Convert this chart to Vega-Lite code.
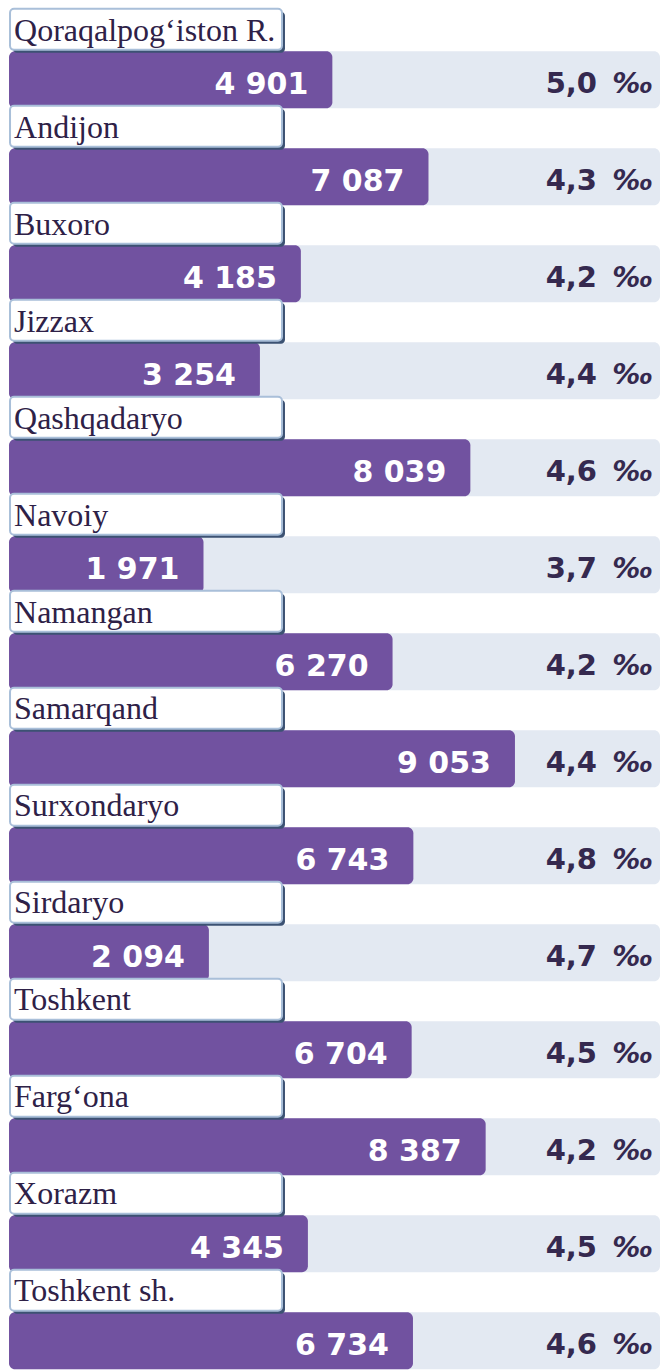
{
  "$schema": "https://vega.github.io/schema/vega-lite/v6.json",
  "width": 664,
  "height": 1370,
  "padding": 0,
  "autosize": {"type": "fit", "contains": "padding"},
  "background": "white",
  "config": {
    "view": {"stroke": null},
    "locale": {"number": {"decimal": ",", "thousands": " ", "grouping": [3], "currency": ["", ""]}}
  },
  "data": {
    "values": [
      {"region": "Qoraqalpog‘iston R.", "value": 4901, "rate": 5.0},
      {"region": "Andijon", "value": 7087, "rate": 4.3},
      {"region": "Buxoro", "value": 4185, "rate": 4.2},
      {"region": "Jizzax", "value": 3254, "rate": 4.4},
      {"region": "Qashqadaryo", "value": 8039, "rate": 4.6},
      {"region": "Navoiy", "value": 1971, "rate": 3.7},
      {"region": "Namangan", "value": 6270, "rate": 4.2},
      {"region": "Samarqand", "value": 9053, "rate": 4.4},
      {"region": "Surxondaryo", "value": 6743, "rate": 4.8},
      {"region": "Sirdaryo", "value": 2094, "rate": 4.7},
      {"region": "Toshkent", "value": 6704, "rate": 4.5},
      {"region": "Farg‘ona", "value": 8387, "rate": 4.2},
      {"region": "Xorazm", "value": 4345, "rate": 4.5},
      {"region": "Toshkent sh.", "value": 6734, "rate": 4.6}
    ]
  },
  "encoding": {
    "y": {"field": "region", "type": "nominal", "sort": null, "axis": null,
          "scale": {"paddingInner": 0, "paddingOuter": 0.047}}
  },
  "layer": [
    {
      "mark": {"type": "bar", "height": 57, "yOffset": 26.7, "cornerRadius": 6, "color": "#e3e9f2"},
      "encoding": {
        "x": {"datum": -2451, "type": "quantitative", "axis": null, "scale": {"domain": [-2656, 12442], "nice": false, "zero": false}},
        "x2": {"datum": 12351}
      }
    },
    {
      "mark": {"type": "bar", "height": 57, "yOffset": 26.7, "cornerRadius": 6, "color": "#7152a0"},
      "encoding": {
        "x": {"field": "value", "type": "quantitative"},
        "x2": {"datum": -2451}
      }
    },
    {
      "mark": {"type": "bar", "height": 41, "yOffset": -20.7, "cornerRadius": 4, "color": "#3c5273"},
      "encoding": {
        "x": {"datum": -2360, "type": "quantitative"},
        "x2": {"datum": 3824}
      }
    },
    {
      "mark": {"type": "bar", "height": 41, "yOffset": -23.7, "cornerRadius": 4, "fill": "white", "stroke": "#a9bfd9", "strokeWidth": 2},
      "encoding": {
        "x": {"datum": -2428, "type": "quantitative"},
        "x2": {"datum": 3756}
      }
    },
    {
      "mark": {"type": "text", "align": "left", "baseline": "alphabetic", "dx": 4, "yOffset": -12.5,
               "font": "Liberation Serif", "fontSize": 32, "color": "#2e2147"},
      "encoding": {
        "x": {"datum": -2428, "type": "quantitative"},
        "text": {"field": "region"}
      }
    },
    {
      "mark": {"type": "text", "align": "right", "baseline": "alphabetic", "dx": -24, "yOffset": 40.8,
               "font": "DejaVu Sans", "fontWeight": "bold", "fontSize": 30, "color": "white"},
      "encoding": {
        "x": {"field": "value", "type": "quantitative"},
        "text": {"field": "value", "type": "quantitative", "format": ",d"}
      }
    },
    {
      "mark": {"type": "text", "align": "right", "baseline": "alphabetic", "dx": -67, "yOffset": 40,
               "font": "DejaVu Sans", "fontWeight": "bold", "fontSize": 29, "color": "#35294f"},
      "encoding": {
        "x": {"value": "width"},
        "text": {"field": "rate", "type": "quantitative", "format": ".1f"}
      }
    },
    {
      "mark": {"type": "text", "align": "right", "baseline": "alphabetic", "dx": -11, "yOffset": 40,
               "font": "DejaVu Sans", "fontStyle": "italic", "fontWeight": "bold", "fontSize": 28, "color": "#35294f", "text": "‰"},
      "encoding": {
        "x": {"value": "width"}
      }
    }
  ]
}
